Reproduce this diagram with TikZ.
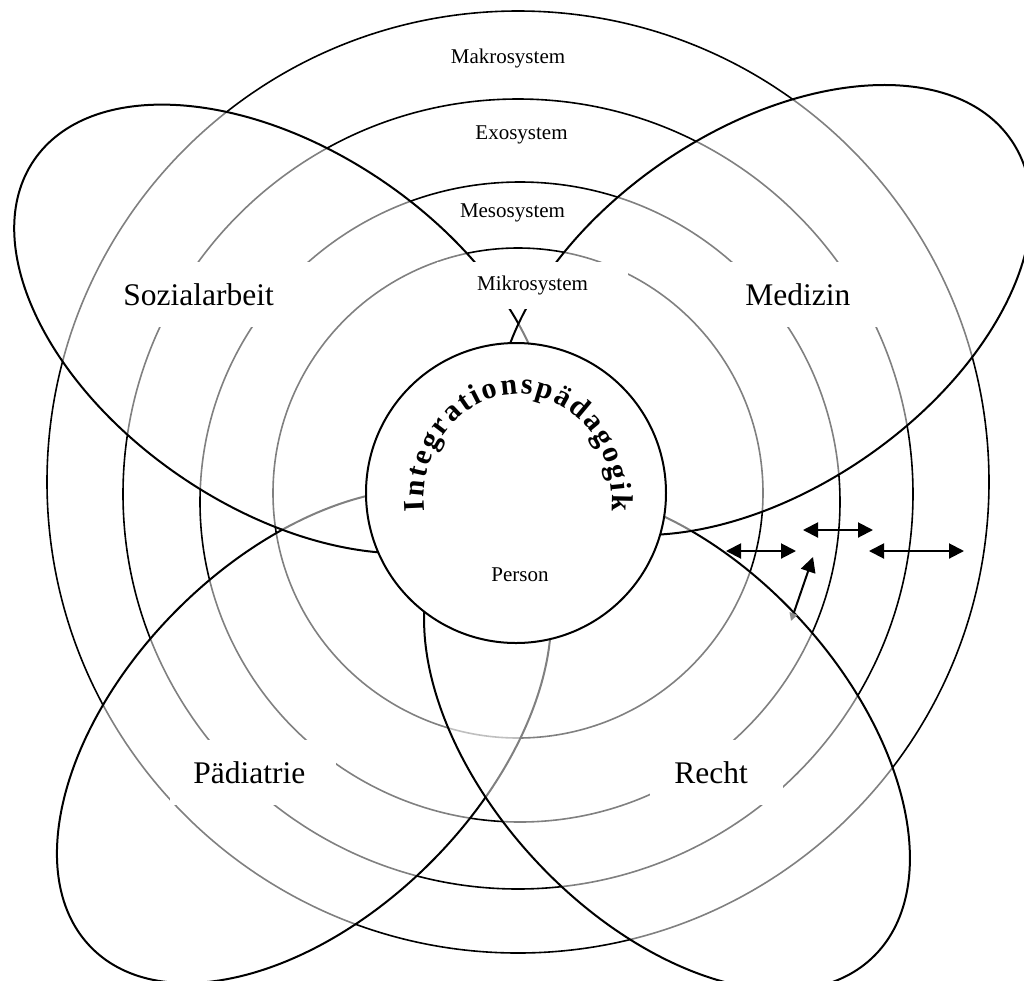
\documentclass[tikz,border=0pt]{standalone}
\usepackage{fontspec}
\setmainfont{Liberation Serif}
\usetikzlibrary{arrows.meta,decorations.text}
\newcommand\archfont{\fontsize{15}{15}\selectfont\bfseries}
\begin{document}
\begin{tikzpicture}[x=0.5pt,y=-0.5pt,
  ring/.style={draw=black,line width=0.8pt},
  field/.style={draw=black,line width=1pt,fill=white,fill opacity=0.5},
  core/.style={draw=black,line width=1pt,fill=white},
  areatxt/.style={fill=white,inner ysep=0pt,anchor=west,align=left,
                  font=\fontsize{15.75}{18}\selectfont},
  systxt/.style={fill=white,inner sep=1pt,font=\fontsize{10.5}{12}\selectfont},
  dbl/.style={{Triangle[length=7.5pt,width=7.5pt]}-{Triangle[length=7.5pt,width=7.5pt]},
              line width=1pt},
  tinyhead/.style={{Triangle[length=4pt,width=4pt,color=black!45]}-{Triangle[length=7.5pt,width=7.5pt]},
              line width=1pt}]
\useasboundingbox (0,0) rectangle (1024,981);
\clip (0,0) rectangle (1024,981);

% centres of the nested system rings
\coordinate (cmakro) at (518,482);
\coordinate (cexo)   at (518,494);
\coordinate (cmeso)  at (520,502);
\coordinate (cmikro) at (518,493);
\coordinate (cperson) at (516,493);

% centres of the four discipline fields
\coordinate (csoz) at (282,329);
\coordinate (cmed) at (764,310);
\coordinate (cpaed) at (304,736);
\coordinate (crecht) at (667,739);

% nested rings
\draw[ring] (cmakro) circle[radius=471];
\draw[ring] (cexo)   circle[radius=395];
\draw[ring] (cmeso)  circle[radius=320];
\draw[ring] (cmikro) circle[radius=245];

% discipline fields, veiling what lies beneath
\draw[field,rotate around={45:(cpaed)}]    (cpaed)  ellipse[x radius=300,y radius=179];
\draw[field,rotate around={-34.2:(csoz)}]  (csoz)   ellipse[x radius=300,y radius=179];
\draw[field,rotate around={-47:(crecht)}]  (crecht) ellipse[x radius=300,y radius=179];
\draw[field,rotate around={34.5:(cmed)}]   (cmed)   ellipse[x radius=300,y radius=179];

% the person at the centre
\draw[core] (cperson) circle[radius=150];

% ring labels
\node[systxt] (makro) at (508,58)    {Makrosystem};
\node[systxt] (exo)   at (521.5,135) {Exosystem};
\node[systxt] (meso)  at (512.5,213) {Mesosystem};
\node[systxt,minimum width=95.5pt,minimum height=23.5pt] (mikro) at (532.5,285.5) {Mikrosystem};
\node[font=\fontsize{10.5}{12}\selectfont] (person) at (520,575) {Person};

% field labels
\node[areatxt,inner xsep=8.5pt,text width=90pt,minimum height=32.5pt]  (soz)   at (106,294.5) {Sozialarbeit};
\node[areatxt,inner xsep=9.5pt,text width=63pt,minimum height=32.5pt]  (med)   at (726,294.5) {Medizin};
\node[areatxt,inner xsep=11.5pt,text width=60pt,minimum height=32.5pt] (paed)  at (170,772.5) {Pädiatrie};
\node[areatxt,inner xsep=12pt,text width=42.5pt,minimum height=32.5pt] (recht) at (650,772.5) {Recht};

% arched title inside the centre circle
\path[decorate,decoration={text along path,text align={fit to path},
      text={|\archfont|Integrationspädagogik}}]
  (518,500) ++(174:94 and 106) arc[start angle=174,end angle=366,x radius=94,y radius=106];

% interaction arrows
\coordinate (h1a) at (726,551);
\coordinate (h1b) at (796,551);
\coordinate (h2a) at (803,530);
\coordinate (h2b) at (873,530);
\coordinate (h3a) at (869,551);
\coordinate (h3b) at (964,551);
\coordinate (d1a) at (791,621);
\coordinate (d1b) at (813,557);
\draw[dbl] (h1a) -- (h1b);
\draw[dbl] (h2a) -- (h2b);
\draw[dbl] (h3a) -- (h3b);
\draw[tinyhead] (d1a) -- (d1b);
\end{tikzpicture}
\end{document}
